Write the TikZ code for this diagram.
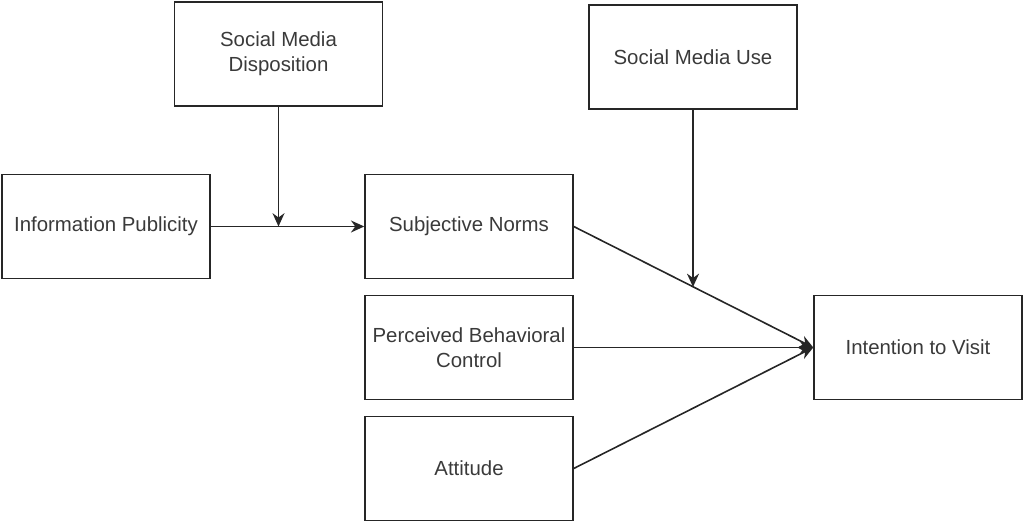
\documentclass[tikz,border=0pt]{standalone}
\usepackage{fontspec}
\setmainfont{Liberation Sans}
\usetikzlibrary{arrows.meta,calc}
\definecolor{linegray}{HTML}{262626}
\definecolor{textgray}{HTML}{3A3A3A}
\tikzset{
    box/.style={draw=linegray, line width=1.1pt, minimum width=156pt, minimum height=78pt,
        align=center, text=textgray, font=\fontsize{15.3}{18.8}\selectfont, inner sep=2pt},
    link/.style={draw=linegray, line width=1.2pt, -{Stealth[length=10pt,width=9pt]}}
}
\begin{document}
\begin{tikzpicture}[x=0.75pt, y=-0.75pt]
        \useasboundingbox (0,0) rectangle (1024,523);
        % Boxes
        \node [box] (sdisp) at (278.5, 54) {Social Media\\Disposition};
        \node [box] (suse) at (693, 57) {Social Media Use};
        \node [box] (infopub) at (106, 226.5) {Information Publicity};
        \node [box] (subnorm) at (469, 226.5) {Subjective Norms};
        \node [box] (pbc) at (469, 347.5) {Perceived Behavioral\\Control};
        \node [box] (attitude) at (469, 468.5) {Attitude};
        \node [box] (intent) at (918, 347.5) {Intention to Visit};
        % Moderation points
        \coordinate (dispjoin) at (infopub.east -| sdisp.south);
        \coordinate (usejoin) at ($(subnorm.east)!0.5!(intent.west)$);
        % Paths
        \draw [link] (infopub) -- (subnorm);
        \draw [link] (sdisp) -- (dispjoin);
        \draw [link] (subnorm.east) -- (intent.west);
        \draw [link] (pbc) -- (intent);
        \draw [link] (attitude.east) -- (intent.west);
        \draw [link] (suse.south) -- (suse.south |- usejoin);
    \end{tikzpicture}
\end{document}
